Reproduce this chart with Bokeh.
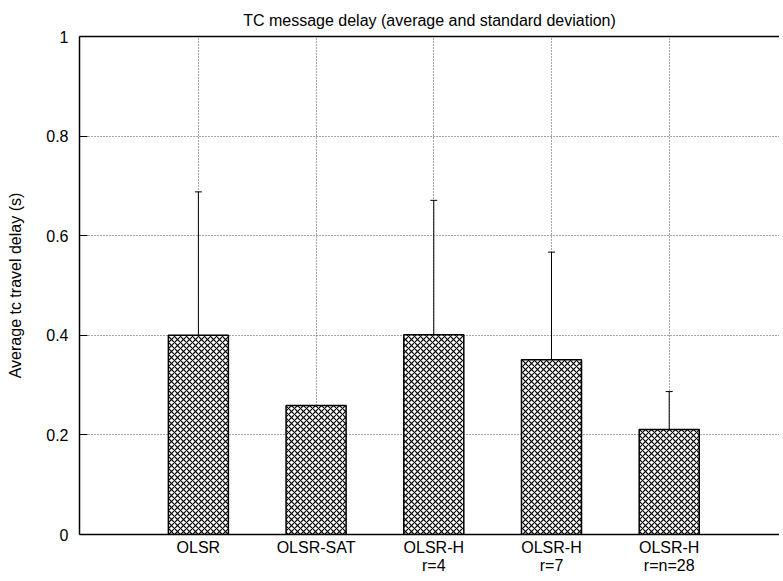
from bokeh.plotting import figure
from bokeh.models import (ColumnDataSource, Range1d, FixedTicker, LinearAxis,
                          NumeralTickFormatter, Whisker, TeeHead)
from bokeh.embed import file_html
from bokeh.resources import INLINE

# ---- data ----
categories = ["OLSR", "OLSR-SAT", "OLSR-H\nr=4", "OLSR-H\nr=7", "OLSR-H\nr=n=28"]
mean_delay = [0.400, 0.259, 0.401, 0.351, 0.211]
std_delay = [0.288, 0.0, 0.270, 0.216, 0.076]
y_ticks = [0, 0.2, 0.4, 0.6, 0.8, 1]

xs = list(range(len(categories)))
src = ColumnDataSource(dict(
    x=xs,
    mean=mean_delay,
    upper=[m + s for m, s in zip(mean_delay, std_delay)],
))

FONT = "Liberation Sans"

p = figure(width=779, height=577, output_backend="svg", toolbar_location=None,
           x_range=Range1d(-1.01, 4.937), y_range=Range1d(0, 1),
           min_border_left=79, min_border_right=0, min_border_top=36,
           min_border_bottom=40,
           title="TC message delay (average and standard deviation)")
p.outline_line_color = None
p.background_fill_color = "white"
p.border_fill_color = "white"

p.title.align = "center"
p.title.text_font = FONT
p.title.text_font_size = "16px"
p.title.text_font_style = "normal"
p.title.text_color = "black"
p.title.standoff = 15

# bars
p.vbar(x="x", top="mean", bottom=0, width=0.51, source=src,
       fill_color="white", line_color="black", line_width=1.5,
       hatch_pattern="diagonal_cross", hatch_color="black",
       hatch_scale=6, hatch_weight=1.2)

# error bars (upper only)
wh = Whisker(base="x", lower="mean", upper="upper", source=src,
             line_color="black", line_width=1,
             lower_head=None,
             upper_head=TeeHead(size=7, line_color="black", line_width=1))
p.add_layout(wh)

# x axis
xa = p.xaxis[0]
xa.ticker = FixedTicker(ticks=xs)
xa.major_label_overrides = {i: c for i, c in zip(xs, categories)}
xa.major_tick_in = 0
xa.major_tick_out = 0
xa.minor_tick_line_color = None
xa.axis_line_color = "black"
xa.axis_line_width = 1.5
xa.major_label_text_font = FONT
xa.major_label_text_font_size = "16px"
xa.major_label_text_line_height = 1.1
xa.major_label_text_color = "black"
xa.major_label_standoff = 4

# y axis
ya = p.yaxis[0]
ya.ticker = FixedTicker(ticks=y_ticks)
ya.formatter = NumeralTickFormatter(format="0.[0]")
ya.major_tick_in = 8
ya.major_tick_out = 0
ya.major_tick_line_color = "black"
ya.minor_tick_line_color = None
ya.axis_line_color = "black"
ya.axis_line_width = 1.5
ya.major_label_text_font = FONT
ya.major_label_text_font_size = "16px"
ya.major_label_text_color = "black"
ya.major_label_standoff = 11
ya.axis_label = "Average tc travel delay (s)"
ya.axis_label_text_font = FONT
ya.axis_label_text_font_size = "16px"
ya.axis_label_text_font_style = "normal"
ya.axis_label_text_color = "black"
ya.axis_label_standoff = 19

# top border (no right border visible in reference)
top = LinearAxis(ticker=FixedTicker(ticks=[]), axis_line_color="black",
                 axis_line_width=1.5, major_tick_in=0, major_tick_out=0,
                 minor_tick_line_color=None)
p.add_layout(top, "above")

# grids
p.xgrid.ticker = FixedTicker(ticks=xs)
p.ygrid.ticker = FixedTicker(ticks=y_ticks[1:-1])
for g in (p.xgrid, p.ygrid):
    g.grid_line_color = "#222222"
    g.grid_line_dash = "1 2"
    g.grid_line_width = 1
    g.grid_line_alpha = 0.8

open("out.html", "w").write(file_html(p, INLINE))
